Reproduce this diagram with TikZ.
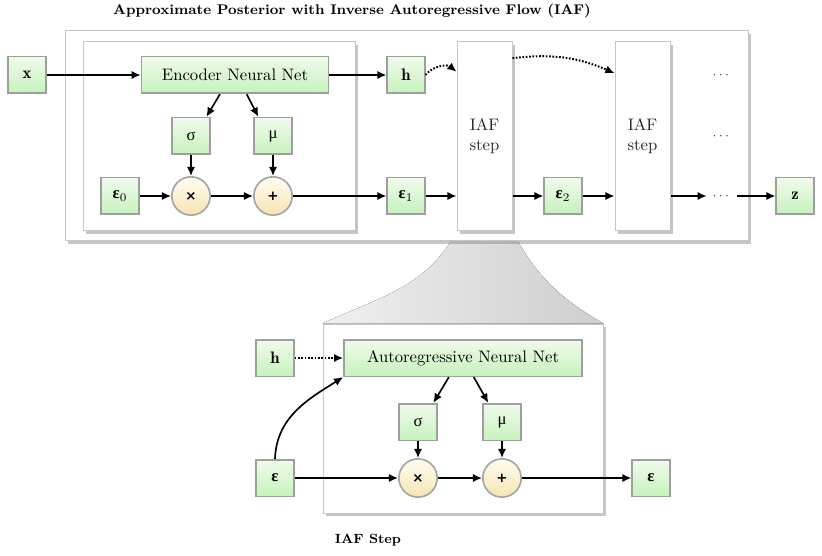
\documentclass[tikz,border=0pt]{standalone}
\usepackage{amsmath,bm}
\usepackage{fontspec}
\newfontfamily\grkfont{Liberation Serif}
\newfontfamily\opfont{DejaVu Sans}
\usetikzlibrary{arrows.meta, calc, shadows, backgrounds}

\definecolor{varTop}{HTML}{F0FBEC}
\definecolor{varBot}{HTML}{C6F2BC}
\definecolor{opTop}{HTML}{FFFDF0}
\definecolor{opBot}{HTML}{F5E5B3}

\newcommand{\epsv}{{\grkfont\bfseries ε}}
\newcommand{\opsym}[1]{{\opfont\bfseries\footnotesize #1}}

\tikzset{
  var/.style={draw=gray!75, line width=1pt, top color=varTop, bottom color=varBot,
    minimum width=22.5pt, minimum height=22pt, inner sep=0pt},
  net/.style={var, minimum height=22pt},
  op/.style={circle, draw=gray!70, line width=1pt, top color=opTop, bottom color=opBot,
    minimum size=23pt, inner sep=0pt},
  panel/.style={draw=gray!45, line width=0.6pt, fill=white, inner sep=0pt,
    drop shadow={shadow xshift=1.6pt, shadow yshift=-1.6pt, opacity=0.45}},
  arr/.style={-{Latex[length=5.5pt,width=5pt]}, line width=1pt},
  dotarr/.style={arr, line width=1.2pt, dash pattern=on 1pt off 1pt},
  more/.style={font=\footnotesize, text=black!75},
}

\begin{document}
\begin{tikzpicture}[x=0.6pt, y=0.6pt]
\useasboundingbox (0,0) rectangle (822,555);

% =========================================================
%  TOP: approximate posterior with IAF
% =========================================================
\node[font=\fontsize{8.4}{10}\selectfont\bfseries] (title) at (352,544)
    {Approximate Posterior with Inverse Autoregressive Flow (IAF)};

% panels
\node[panel, minimum width=409.8pt, minimum height=126pt] (outer) at (406.5,419) {};
\node[panel, minimum width=163.2pt, minimum height=113.4pt] (encpanel) at (219,418.5) {};
\node[panel, minimum width=33pt, minimum height=113.4pt, align=center, text=black!85]
    (iaf1) at (484.5,418.5) {IAF\\step};
\node[panel, minimum width=33pt, minimum height=113.4pt, align=center, text=black!85]
    (iaf2) at (642.5,418.5) {IAF\\step};

% variables and operations
\node[var] (x) at (27,480) {$\mathbf{x}$};
\node[net, minimum width=112.2pt] (enc) at (235,480) {Encoder Neural Net};
\node[var] (h) at (406,480) {$\mathbf{h}$};
\node[var] (sig) at (191,419) {\grkfont σ};
\node[var] (mu) at (273,419) {\grkfont μ};
\node[var] (eps0) at (120,359) {\epsv$_0$};
\node[op] (mul) at (191,359) {\opsym{×}};
\node[op] (add) at (273,359) {\opsym{+}};
\node[var] (eps1) at (406,359) {\epsv$_1$};
\node[var] (eps2) at (563,359) {\epsv$_2$};
\node[more] (dotsA) at (722,480) {$\cdots$};
\node[more] (dotsB) at (722,419) {$\cdots$};
\node[more] (dotsC) at (722,359) {$\cdots$};
\node[var] (z) at (795,359) {$\mathbf{z}$};

% connections
\draw[arr] (x) -- (enc);
\draw[arr] (enc) -- (h);
\draw[arr] ([xshift=-9pt]enc.south) -- ([xshift=-2.5pt]sig.north east);
\draw[arr] ([xshift=7pt]enc.south) -- ([xshift=3pt]mu.north west);
\draw[arr] (sig) -- (mul);
\draw[arr] (mu) -- (add);
\draw[arr] (eps0) -- (mul);
\draw[arr] (mul) -- (add);
\draw[arr] (add) -- (eps1);
\draw[arr] (eps1) -- (eps1 -| iaf1.west);
\draw[arr] (eps2 -| iaf1.east) -- (eps2);
\draw[arr] (eps2) -- (eps2 -| iaf2.west);
\draw[arr] (dotsC -| iaf2.east) -- (dotsC);
\draw[arr] (dotsC) -- (z);
\draw[dotarr] (h.east) to[bend left=45] ([yshift=2pt]iaf1.west |- h.east);
\draw[dotarr] ([yshift=47pt]iaf1.east) to[bend left=15] ([yshift=38pt]iaf2.west);

% =========================================================
%  BOTTOM: one IAF step
% =========================================================
\node[panel, minimum width=168pt, minimum height=113.4pt] (steppanel) at (463,136.5) {};

\begin{pgfonlayer}{background}
  \fill[left color=gray!12, right color=gray!38]
    (iaf1.south west) to[out=242, in=25] (steppanel.north west)
    -- (steppanel.north east) to[out=150, in=-62] (iaf1.south east) -- cycle;
\end{pgfonlayer}

\node[var] (h2) at (275,197) {$\mathbf{h}$};
\node[net, minimum width=142.8pt] (arnet) at (463,197) {Autoregressive Neural Net};
\node[var] (sig2) at (418,133) {\grkfont σ};
\node[var] (mu2) at (502,133) {\grkfont μ};
\node[var] (epsin) at (275,77) {\epsv};
\node[op] (mul2) at (418,77) {\opsym{×}};
\node[op] (add2) at (502,77) {\opsym{+}};
\node[var] (epsout) at (651,77) {\epsv};
\node[font=\footnotesize\bfseries] (steplabel) at (368,15) {IAF Step};

\draw[dotarr] (h2) -- (arnet);
\draw[arr] (epsin.north) to[out=88, in=212] (arnet.south west);
\draw[arr] ([xshift=-8.5pt]arnet.south) -- ([xshift=-2.5pt]sig2.north east);
\draw[arr] ([xshift=6.5pt]arnet.south) -- ([xshift=3.5pt]mu2.north west);
\draw[arr] (sig2) -- (mul2);
\draw[arr] (mu2) -- (add2);
\draw[arr] (epsin) -- (mul2);
\draw[arr] (mul2) -- (add2);
\draw[arr] (add2) -- (epsout);

\end{tikzpicture}
\end{document}
